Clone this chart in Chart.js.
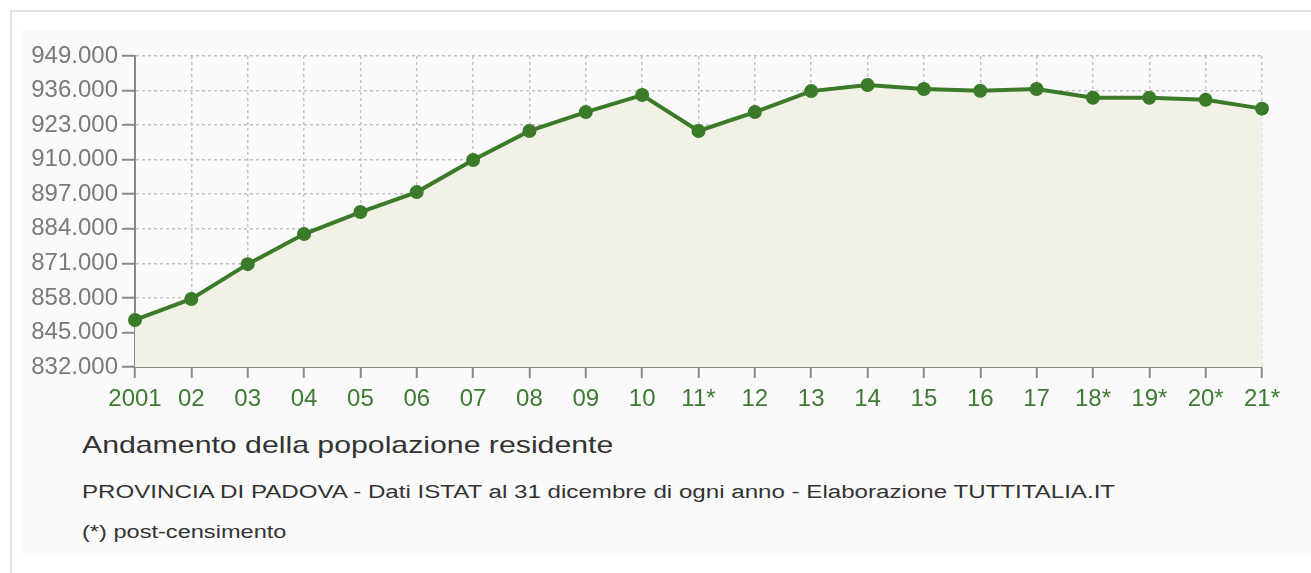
<!DOCTYPE html>
<html>
<head>
<meta charset="utf-8">
<script src="https://cdn.jsdelivr.net/npm/chart.js@4/dist/chart.umd.min.js"></script>
<style>
  body { margin: 0; background: #fff; font-family: "Liberation Sans", Arial, sans-serif; }
  #frame { position: absolute; left: 10px; top: 10px; width: 1320px; height: 600px; border: 2px solid #e2e2e2; box-sizing: border-box; }
  #inner { position: absolute; left: 22px; top: 30px; width: 1289px; height: 523px; background: #fafafa; }
  #wrap { position: absolute; left: 0; top: 0; width: 1311px; height: 420px; }
  .txt { position: absolute; left: 82px; color: #333; white-space: nowrap; transform-origin: 0 50%; }
  .t1 { top: 431px; font-size: 24px; transform: scaleX(1.26); }
  .t2 { top: 482px; font-size: 18px; transform: scaleX(1.34); }
  .t3 { top: 522px; font-size: 18px; transform: scaleX(1.31); }
</style>
</head>
<body>
<div id="frame"></div>
<div id="inner"></div>
<div id="wrap"><canvas id="popChart"></canvas></div>
<div class="txt t1">Andamento della popolazione residente</div>
<div class="txt t2">PROVINCIA DI PADOVA - Dati ISTAT al 31 dicembre di ogni anno - Elaborazione TUTTITALIA.IT</div>
<div class="txt t3">(*) post-censimento</div>
<script>
// Popolazione residente - Provincia di Padova
var anni = ["2001", "02", "03", "04", "05", "06", "07", "08", "09", "10", "11*", "12", "13", "14", "15", "16", "17", "18*", "19*", "20*", "21*"];
var popolazione = [849700, 857600, 870700, 882000, 890300, 897800, 909900, 920800, 927900, 934300, 920800, 927900, 935800, 938100, 936600, 935900, 936600, 933300, 933300, 932500, 929200];
var yMin = 832000;
var yMax = 949000;
var yStep = 13000;

var popContext = document.getElementById("popChart").getContext("2d");
var popChart = new Chart(popContext, {
    type: 'line',
    data: {
        labels: anni,
        datasets: [{
            data: popolazione,
            borderColor: "#3a7a28",
            backgroundColor: "#f1f2e5",
            borderWidth: 4,
            fill: 'start',
            tension: 0,
            pointRadius: 7,
            pointHoverRadius: 7,
            pointBackgroundColor: "#3a7a28",
            pointBorderWidth: 0
        }]
    },
    options: {
        responsive: true,
        maintainAspectRatio: false,
        animation: false,
        layout: { padding: { left: 0, top: 56, right: 49, bottom: 0 } },
        plugins: { legend: { display: false }, tooltip: { enabled: false } },
        scales: {
            x: {
                offset: false,
                grid: { color: "#c4c4c4", lineWidth: 1.5, tickLength: 11, tickColor: "#888", tickWidth: 2 },
                border: { color: "#888", width: 2, dash: [3, 3] },
                ticks: { color: "#3f7a35", font: { family: "Liberation Sans", size: 24 }, padding: 7, maxRotation: 0, autoSkip: false },
                afterFit: function (scale) { scale.height = 53; }
            },
            y: {
                min: yMin,
                max: yMax,
                grid: { color: "#c4c4c4", lineWidth: 1.5, tickLength: 13, tickColor: "#888", tickWidth: 2 },
                border: { color: "#888", width: 2, dash: [3, 3] },
                ticks: {
                    stepSize: yStep,
                    color: "#7a7a7a",
                    font: { family: "Liberation Sans", size: 24 },
                    padding: 4,
                    callback: function (v) { return v.toLocaleString('it-IT', { minimumFractionDigits: 0 }).replace(/,/g, '.'); }
                },
                afterFit: function (scale) { scale.width = 135; }
            }
        }
    }
});
</script>
</body>
</html>
